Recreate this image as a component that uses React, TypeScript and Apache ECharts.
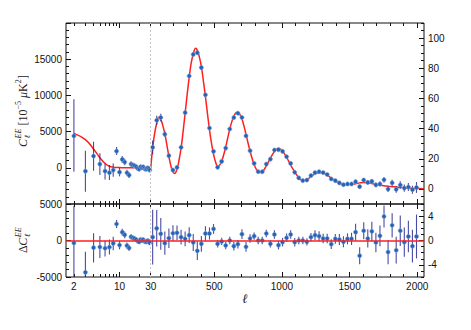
import React, { useEffect, useRef } from 'react';
import * as echarts from 'echarts';

// ---------- low-ell (2..29), C_ell in 10^-5 muK^2 (left axis) ----------
const lowL = [2, 3, 4, 5, 6, 7, 8, 9, 10, 11, 12, 13, 14, 15, 16, 17, 18, 19, 20, 21, 22, 23, 24, 25, 26, 27, 28, 29];
const lowC = [4400, -460, 1620, 510, -460, -690, -320, 2300, -600, 1160, 790, -690, -1010, 510, 370, 280, 140, -90, -180, 140, 0, 140, -90, -180, -180, 0, -100, -320];
const lowErrLo = [4950, 2860, 2035, 1510, 1140, 1010, 930, 540, 580, 480, 450, 420, 400, 350, 330, 310, 300, 290, 280, 270, 260, 250, 240, 235, 230, 225, 220, 215];
const lowErrHi = [5070, 2810, 1980, 1490, 1070, 1060, 930, 560, 580, 480, 450, 420, 400, 350, 330, 310, 300, 290, 280, 270, 260, 250, 240, 235, 230, 225, 220, 215];
const lowTheory = [4750, 3900, 2600, 1400, 600, 220, 80, 40, 25, 20, 18, 16, 15, 14, 13, 12, 12, 11, 11, 10, 10, 10, 9, 9, 9, 8, 8, 8];

// ---------- high-ell binned (right axis) ----------
const binL = [44.5, 74.5, 104.5, 134.5, 164.5, 194.5, 224.5, 254.5, 284.5, 314.5, 344.5, 374.5, 404.5, 434.5, 464.5, 494.5, 524.5, 554.5, 584.5, 614.5, 644.5, 674.5, 704.5, 734.5, 764.5, 794.5, 824.5, 854.5, 884.5, 914.5, 944.5, 974.5, 1004.5, 1034.5, 1064.5, 1094.5, 1124.5, 1154.5, 1184.5, 1214.5, 1244.5, 1274.5, 1304.5, 1334.5, 1364.5, 1394.5, 1424.5, 1454.5, 1484.5, 1514.5, 1544.5, 1574.5, 1604.5, 1634.5, 1664.5, 1694.5, 1724.5, 1754.5, 1784.5, 1814.5, 1844.5, 1874.5, 1904.5, 1934.5, 1964.5, 1994.5];
const binTheory = [27.0, 43.5, 46.2, 36.7, 21.6, 11.3, 13.0, 27.0, 50.3, 74.0,
  89.5, 92.0, 81.0, 61.2, 39.2, 23.0, 14.9, 18.4, 27.9, 39.7,
  48.2, 50.8, 46.3, 36.2, 25.0, 16.2, 11.4, 11.4, 15.3, 20.3,
  24.8, 26.8, 25.2, 20.9, 15.9, 11.3, 7.3, 5.5, 6.1, 8.3,
  9.9, 10.7, 10.5, 9.2, 7.2, 5.2, 3.8, 3.0, 3.0, 3.0,
  3.4, 4.0, 4.3, 4.0, 3.5, 3.0, 2.5, 2.1, 1.8, 1.5,
  1.3, 1.0, 0.8, 0.6, 0.4, 0.3];
const binResid = [0.55, 2.0, 1.1, -0.44, 0.38, 1.2, 1.26, 0.55, 0.27, 0.88,
  -0.33, -1.7, -0.55, 1.15, 1.15, 1.9, -0.55, -0.16, -0.82, 0,
  -0.93, -0.6, 1.04, -1.04, 0.33, 0.71, 0, 0, 1.15, -0.55,
  0.99, -0.77, -0.27, 0.44, 0.99, -0.27, 0, 0, -0.22, 0.55,
  0.88, 0.71, 0.33, 0.33, -0.6, 0.27, 0.16, -0.22, 0.27, 0.27,
  1.37, -2.5, 1.6, 0.33, 1.5, -0.33, 0.77, 3.95, -1.9, 2.5,
  -1.6, 1.6, -0.27, 0.66, -0.93, 0.66];
const binErr = [4.5, 3.0, 2.6, 1.9, 1.6, 1.3, 1.2, 1.2, 1.2, 1.3,
  1.4, 1.5, 1.3, 1.2, 1.0, 0.8, 0.6, 0.6, 0.6, 0.6,
  0.7, 0.7, 0.8, 0.8, 0.7, 0.6, 0.6, 0.6, 0.6, 0.6,
  0.7, 0.7, 0.7, 0.7, 0.7, 0.7, 0.6, 0.6, 0.6, 0.7,
  0.8, 0.8, 0.8, 0.8, 0.8, 0.8, 0.9, 0.9, 0.9, 1.0,
  1.4, 1.4, 1.4, 1.5, 1.6, 1.6, 1.7, 1.8, 2.0, 2.0,
  2.2, 2.5, 2.4, 2.6, 2.7, 3.6];

// ---------- best-fit curve, high ell ----------
const curveL = [30, 37, 44.5, 59.5, 74.5, 90, 104.5, 119.5, 134.5, 149.5, 164.5, 179.5, 194.5, 207, 224.5, 239.5, 254.5, 269.5, 284.5, 299.5, 314.5, 329.5, 344.5, 362, 374.5, 389.5, 404.5, 419.5, 434.5, 449.5, 464.5, 479.5, 494.5, 509.5, 524.5, 539.5, 554.5, 569.5, 584.5, 599.5, 614.5, 629.5, 644.5, 659.5, 674.5, 689.5, 704.5, 719.5, 734.5, 749.5, 764.5, 779.5, 794.5, 809.5, 824.5, 839.5, 854.5, 869.5, 884.5, 899.5, 914.5, 929.5, 944.5, 959.5, 974.5, 989.5, 1004.5, 1019.5, 1034.5, 1049.5, 1064.5, 1079.5, 1094.5, 1109.5, 1124.5, 1139.5, 1154.5, 1169.5, 1184.5, 1199.5, 1214.5, 1229.5, 1244.5, 1259.5, 1274.5, 1289.5, 1304.5, 1319.5, 1334.5, 1349.5, 1364.5, 1379.5, 1394.5, 1409.5, 1424.5, 1439.5, 1454.5, 1484.5, 1514.5, 1544.5, 1574.5, 1604.5, 1634.5, 1664.5, 1694.5, 1724.5, 1754.5, 1784.5, 1814.5, 1844.5, 1874.5, 1904.5, 1934.5, 1964.5, 1994.5, 2050];
const curveD = [13.6, 20.5, 27.0, 37.0, 43.5, 47.5, 46.2, 42.0, 36.7, 29.2, 21.6, 15.2, 11.3, 10.2, 13.0, 19.0, 27.0, 38.0, 50.3, 62.5, 74.0, 83.5, 89.5, 93.3, 92.0, 87.5, 81.0, 71.5, 61.2, 50.0, 39.2, 30.2, 23.0, 17.8, 14.9, 15.8, 18.4, 22.6, 27.9, 33.8, 39.7, 44.6, 48.2, 50.4, 50.8, 49.2, 46.3, 41.6, 36.2, 30.4, 25.0, 20.2, 16.2, 13.2, 11.4, 10.9, 11.4, 13.0, 15.3, 17.8, 20.3, 22.8, 24.8, 26.2, 26.8, 26.4, 25.2, 23.2, 20.9, 18.4, 15.9, 13.5, 11.3, 9.2, 7.3, 6.1, 5.5, 5.5, 6.1, 7.1, 8.3, 9.2, 9.9, 10.5, 10.7, 10.7, 10.5, 9.9, 9.2, 8.2, 7.2, 6.2, 5.2, 4.4, 3.8, 3.3, 3.0, 3.0, 3.0, 3.4, 4.0, 4.3, 4.0, 3.5, 3.0, 2.5, 2.1, 1.8, 1.5, 1.3, 1.0, 0.8, 0.6, 0.4, 0.3, 0.1];

// ---------- ticks ----------
const xLabelL = [2, 10, 30, 500, 1000, 1500, 2000];
const xMajorL = [10, 30, 500, 1000, 1500, 2000];
const xMinorL = [2, 3, 4, 5, 6, 7, 8, 9, 20, 100, 200, 300, 400, 600, 700, 800, 900, 1100, 1200, 1300, 1400, 1600, 1700, 1800, 1900];
const yUpRightLabels = [0, 20, 40, 60, 80, 100];
const yLowRightLabels = [-4, 0, 4];

// hybrid axis: log below ell=30, linear above
const K = 482.6;
const uOf = (l: number) => (l >= 30 ? l : 30 + (Math.log10(l) - Math.log10(30)) * K);
const XMIN = -596;
const XMAX = 2050;

const RED = '#ff1f1f';
const ERR = '#2a2a92';
const PT = '#1f63bd';
const INK = '#111';
const LABEL_FONT = { fontFamily: 'Liberation Sans', fontSize: 10, color: INK };
const plain = (v: number) => String(v);

function xAx(grid: number, pos: string, vals: number[], len: number, labels: boolean) {
  return {
    type: 'value', gridIndex: grid, position: pos, min: XMIN, max: XMAX,
    axisLine: { show: false, onZero: false }, splitLine: { show: false },
    axisTick: { show: true, inside: true, length: len, customValues: vals.map(uOf), lineStyle: { color: INK, width: 1 } },
    axisLabel: labels
      ? {
          show: true, margin: 4, ...LABEL_FONT,
          customValues: xLabelL.map(uOf),
          formatter: (v: number) => {
            let best = 0;
            xLabelL.forEach((l, i) => {
              if (Math.abs(uOf(l) - v) < Math.abs(uOf(xLabelL[best]) - v)) best = i;
            });
            return String(xLabelL[best]);
          },
        }
      : { show: false },
  };
}

const errRender = (params: any, api: any) => {
  const x = api.value(0);
  const a = api.coord([x, api.value(1)]);
  const b = api.coord([x, api.value(2)]);
  return {
    type: 'line',
    shape: { x1: a[0], y1: a[1], x2: b[0], y2: b[1] },
    style: { stroke: ERR, lineWidth: 1.1, opacity: 0.85 },
  };
};

function errSeries(xi: number, yi: number, data: number[][], extra: any = {}) {
  return {
    type: 'custom', coordinateSystem: 'cartesian2d', xAxisIndex: xi, yAxisIndex: yi,
    renderItem: errRender, encode: { x: 0, y: [1, 2] }, clip: true, data, z: 2, silent: true, ...extra,
  };
}
function ptSeries(xi: number, yi: number, data: number[][]) {
  return {
    type: 'scatter', xAxisIndex: xi, yAxisIndex: yi, data, symbol: 'circle', symbolSize: 4.2, z: 3, silent: true,
    itemStyle: { color: PT, borderColor: '#8ea6c8', borderWidth: 0.6, opacity: 1 },
  };
}

const dashLine = {
  silent: true, symbol: 'none', label: { show: false },
  lineStyle: { color: '#c4c4c4', type: [2, 2], width: 1 },
  data: [{ xAxis: 30 }],
};

function yAx(grid: number, pos: string, min: number, max: number, opts: any) {
  return {
    type: 'value', gridIndex: grid, position: pos, min, max,
    axisLine: { show: false, onZero: false }, splitLine: { show: false },
    ...opts,
  };
}

function buildOption() {
  const lowU = lowL.map(uOf);
  const binU = binL.map(uOf);
  const binData = binL.map((_, i) => binTheory[i] + binResid[i]);
  const lowRes = lowC.map((c, i) => c - lowTheory[i]);

  return {
    animation: false,
    grid: [
      { left: 66, right: 47, top: 23, height: 181, show: true, borderColor: INK, borderWidth: 1, backgroundColor: 'transparent' },
      { left: 66, right: 47, top: 204, height: 73, show: true, borderColor: INK, borderWidth: 1, backgroundColor: 'transparent' },
    ],
    xAxis: [
      xAx(0, 'bottom', xMinorL, 3, false),
      xAx(0, 'bottom', xMajorL, 5, false),
      xAx(0, 'top', xMinorL, 3, false),
      xAx(0, 'top', xMajorL, 5, false),
      xAx(1, 'bottom', xMinorL, 3, false),
      xAx(1, 'bottom', xMajorL, 5, true),
      xAx(1, 'top', xMinorL, 3, false),
      xAx(1, 'top', xMajorL, 5, false),
    ],
    yAxis: [
      yAx(0, 'left', -5000, 20000, {
        interval: 5000,
        axisTick: { inside: true, length: 5, lineStyle: { color: INK } },
        minorTick: { show: true, splitNumber: 5, length: 3, lineStyle: { color: INK } },
        minorSplitLine: { show: false },
        axisLabel: { showMinLabel: false, showMaxLabel: false, margin: 4, formatter: plain, ...LABEL_FONT },
      }),
      yAx(0, 'right', -10, 110, {
        axisTick: { inside: true, length: 5, customValues: yUpRightLabels, lineStyle: { color: INK } },
        axisLabel: { customValues: yUpRightLabels, margin: 4, formatter: plain, ...LABEL_FONT },
      }),
      yAx(0, 'right', -10, 110, {
        interval: 5,
        axisTick: { inside: true, length: 3, lineStyle: { color: INK } },
        axisLabel: { show: false },
      }),
      yAx(1, 'left', -5000, 5000, {
        interval: 5000,
        axisTick: { inside: true, length: 5, lineStyle: { color: INK } },
        minorTick: { show: true, splitNumber: 5, length: 3, lineStyle: { color: INK } },
        minorSplitLine: { show: false },
        axisLabel: { margin: 4, formatter: plain, ...LABEL_FONT },
      }),
      yAx(1, 'right', -6, 6, {
        axisTick: { inside: true, length: 5, customValues: yLowRightLabels, lineStyle: { color: INK } },
        axisLabel: { customValues: yLowRightLabels, margin: 4, formatter: plain, ...LABEL_FONT },
      }),
      yAx(1, 'right', -6, 6, {
        interval: 1,
        axisTick: { inside: true, length: 3, lineStyle: { color: INK } },
        axisLabel: { show: false },
      }),
    ],
    series: [
      // upper panel
      {
        type: 'line', xAxisIndex: 0, yAxisIndex: 0, data: lowL.map((l, i) => [lowU[i], lowTheory[i]]),
        smooth: 0.4, showSymbol: false, symbol: 'none', lineStyle: { color: RED, width: 1.5 }, z: 1, silent: true,
        markLine: dashLine,
      },
      {
        type: 'line', xAxisIndex: 0, yAxisIndex: 1, data: curveL.map((l, i) => [uOf(l), curveD[i]]),
        smooth: 0.4, showSymbol: false, symbol: 'none', lineStyle: { color: RED, width: 1.5 }, z: 1, silent: true,
      },
      errSeries(0, 0, lowL.map((_, i) => [lowU[i], lowC[i] - lowErrLo[i], lowC[i] + lowErrHi[i]])),
      errSeries(0, 1, binL.map((_, i) => [binU[i], binData[i] - binErr[i], binData[i] + binErr[i]])),
      ptSeries(0, 0, lowL.map((_, i) => [lowU[i], lowC[i]])),
      ptSeries(0, 1, binL.map((_, i) => [binU[i], binData[i]])),
      // lower panel
      errSeries(4, 3, lowL.map((_, i) => [lowU[i], lowRes[i] - lowErrLo[i], lowRes[i] + lowErrHi[i]]), {
        markLine: dashLine,
      }),
      {
        type: 'line', xAxisIndex: 4, yAxisIndex: 3, data: [], z: 1, silent: true,
        markLine: {
          silent: true, symbol: 'none', label: { show: false },
          lineStyle: { color: RED, type: 'solid', width: 1.5 },
          data: [{ yAxis: 0 }],
        },
      },
      errSeries(4, 4, binL.map((_, i) => [binU[i], binResid[i] - binErr[i], binResid[i] + binErr[i]])),
      ptSeries(4, 3, lowL.map((_, i) => [lowU[i], lowRes[i]])),
      ptSeries(4, 4, binL.map((_, i) => [binU[i], binResid[i]])),
    ],
    graphic: [
      {
        type: 'group', x: 23, y: 111, rotation: Math.PI / 2,
        children: [
          { type: 'text', style: { text: 'C', x: -36, y: 0, font: 'italic 12px "Liberation Serif"', fill: '#222', textVerticalAlign: 'middle' } },
          { type: 'text', style: { text: 'EE', x: -27.5, y: -5, font: 'italic 8px "Liberation Serif"', fill: '#222', textVerticalAlign: 'middle' } },
          { type: 'text', style: { text: 'ℓ', x: -27.5, y: 4.5, font: 'italic 8px "Liberation Serif"', fill: '#222', textVerticalAlign: 'middle' } },
          { type: 'text', style: { text: ' [10', x: -17.5, y: 0, font: '12px "Liberation Serif"', fill: '#222', textVerticalAlign: 'middle' } },
          { type: 'text', style: { text: '−5', x: 1.5, y: -5, font: '8px "Liberation Serif"', fill: '#222', textVerticalAlign: 'middle' } },
          { type: 'text', style: { text: ' μ', x: 10, y: 0, font: 'italic 12px "Liberation Serif"', fill: '#222', textVerticalAlign: 'middle' } },
          { type: 'text', style: { text: 'K', x: 19, y: 0, font: '12px "Liberation Serif"', fill: '#222', textVerticalAlign: 'middle' } },
          { type: 'text', style: { text: '2', x: 27.7, y: -5, font: '8px "Liberation Serif"', fill: '#222', textVerticalAlign: 'middle' } },
          { type: 'text', style: { text: ']', x: 32, y: 0, font: '12px "Liberation Serif"', fill: '#222', textVerticalAlign: 'middle' } },
        ],
      },
      {
        type: 'group', x: 23, y: 240, rotation: Math.PI / 2,
        children: [
          { type: 'text', style: { text: 'Δ', x: -13, y: 0, font: '12px "Liberation Serif"', fill: '#222', textVerticalAlign: 'middle' } },
          { type: 'text', style: { text: 'C', x: -5.7, y: 0, font: 'italic 12px "Liberation Serif"', fill: '#222', textVerticalAlign: 'middle' } },
          { type: 'text', style: { text: 'EE', x: 2.8, y: -5, font: 'italic 8px "Liberation Serif"', fill: '#222', textVerticalAlign: 'middle' } },
          { type: 'text', style: { text: 'ℓ', x: 2.8, y: 4.5, font: 'italic 8px "Liberation Serif"', fill: '#222', textVerticalAlign: 'middle' } },
        ],
      },
      {
        type: 'text', x: 245, y: 298,
        style: { text: 'ℓ', font: 'italic 13px "Liberation Serif"', fill: '#222', textAlign: 'center', textVerticalAlign: 'middle' },
      },
    ],
  };
}

export default function App() {
  const ref = useRef<HTMLDivElement>(null);
  useEffect(() => {
    if (!ref.current) return;
    const chart = echarts.init(ref.current, null, { renderer: 'svg' });
    chart.setOption(buildOption() as any);
    return () => chart.dispose();
  }, []);
  return <div ref={ref} style={{ position: 'fixed', left: 0, top: 0, width: 471, height: 330, background: '#fff' }} />;
}
